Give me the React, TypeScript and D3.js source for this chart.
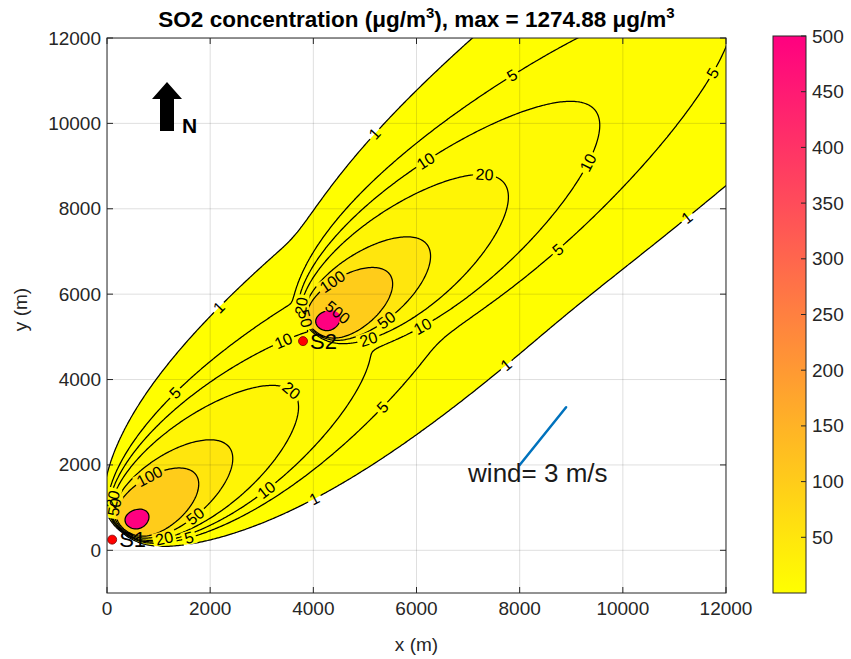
import React, { useRef, useEffect } from 'react';
import * as d3 from 'd3';

const W = 851;
const H = 659;

// sources (m)
const sourceNames = ['S1', 'S2'];
const sourceX = [100, 3800];
const sourceY = [250, 4900];
const sourceQ = [1, 1];

// plume model
const plumeAxisDeg = 45;
const plumeK = 7.43e8;
const plumeN = 2.05;
const plumeS0 = 530;
const plumeM = 3;
// crosswind spread: grows as s^0.73 near the stack, s^0.45 far away
const sigmaA = 2.12;
const sigmaB = 0.73;
const sigmaB2 = 0.45;
const sigmaL = 5000;

const levels = [1, 5, 10, 20, 50, 100, 500];
const cMax = 500;

const xTicks = [0, 2000, 4000, 6000, 8000, 10000, 12000];
const yTicks = [0, 2000, 4000, 6000, 8000, 10000, 12000];
const cbarTicks = [50, 100, 150, 200, 250, 300, 350, 400, 450, 500];

const windStart = [8000, 2000];
const windEnd = [8900, 3350];
const windText = 'wind= 3 m/s';
const windTextPos = [7000, 1750];

// inline contour labels: level, x, y
const labelLevel = [1, 1, 1, 1, 1, 5, 5, 5, 5, 5, 5, 10, 10, 10, 10, 10, 20, 20, 20, 20, 50, 50, 100, 100, 500, 20, 50, 20, 50];
const labelX = [2229, 5252, 3992, 7771, 11298, 1415, 7868, 5349, 8721, 11725, 1570, 3390, 3060, 6200, 9300, 6100, 3680, 1085, 7325, 5040, 1670, 5350, 870, 4460, 4380, 250, 330, 3900, 4000];
const labelY = [5625, 9679, 1242, 4265, 7687, 3585, 11063, 3351, 7078, 11180, 400, 4970, 1450, 9070, 9090, 5320, 3870, 350, 8670, 5085, 870, 5510, 1640, 6140, 5440, 1150, 950, 5700, 5500];

const FONT = '"Liberation Sans", Arial, Helvetica, sans-serif';

const bandColor = d3.interpolateRgb('#ffff00', '#ff0080');

const conc = (px: number, py: number) => {
  const ca = Math.cos((plumeAxisDeg * Math.PI) / 180);
  const sa = Math.sin((plumeAxisDeg * Math.PI) / 180);
  let c = 0;
  for (let k = 0; k < sourceX.length; k++) {
    const dx = px - sourceX[k];
    const dy = py - sourceY[k];
    const s = dx * ca + dy * sa;
    if (s <= 1) continue;
    const w = -dx * sa + dy * ca;
    const sy = sigmaA * Math.pow(s, sigmaB) *
      Math.pow(1 + (s / sigmaL) ** 2, -(sigmaB - sigmaB2) / 2);
    c += sourceQ[k] * plumeK * Math.pow(s, -plumeN) *
      Math.exp(-Math.pow(plumeS0 / s, plumeM)) * Math.exp(-(w * w) / (2 * sy * sy));
  }
  return c;
};

export default function App() {
  const ref = useRef<SVGSVGElement>(null);

  useEffect(() => {
    const svg = d3.select(ref.current);
    svg.selectAll('*').remove();

    const left = 107, right = 726, top = 38, bottom = 593;
    const x = d3.scaleLinear().domain([0, 12000]).range([left, right]);
    const y = d3.scaleLinear().domain([-1000, 12000]).range([bottom, top]);

    const defs = svg.append('defs');
    defs.append('clipPath').attr('id', 'plotClip')
      .append('rect').attr('x', left).attr('y', top)
      .attr('width', right - left).attr('height', bottom - top);

    // concentration grid (extends past the axes so edges are not stroked)
    const step = 30;
    const gx0 = -600, gy0 = -1600;
    const nx = Math.ceil((12600 - gx0) / step) + 1;
    const ny = Math.ceil((12600 - gy0) / step) + 1;
    const values = new Float64Array(nx * ny);
    for (let j = 0; j < ny; j++) {
      for (let i = 0; i < nx; i++) {
        values[j * nx + i] = conc(gx0 + i * step, gy0 + j * step);
      }
    }
    const contours = d3.contours().size([nx, ny]).thresholds(levels)(Array.from(values));

    const toPx = (gx: number, gy: number): [number, number] =>
      [x(gx0 + (gx - 0.5) * step), y(gy0 + (gy - 0.5) * step)];
    const proj = d3.geoTransform({
      point(px: number, py: number) {
        const p = toPx(px, py);
        (this as any).stream.point(p[0], p[1]);
      }
    });
    const path = d3.geoPath(proj);

    const plot = svg.append('g').attr('clip-path', 'url(#plotClip)');

    // filled bands
    contours.forEach(c => {
      plot.append('path')
        .attr('d', path(c as any))
        .attr('fill', bandColor(c.value / cMax))
        .attr('stroke', 'none');
    });

    // label placement: snap to nearest contour vertex
    const labels: { t: string; px: number; py: number; a: number }[] = [];
    labelLevel.forEach((lv, k) => {
      const c = contours.find(cc => cc.value === lv);
      if (!c) return;
      const tx = x(labelX[k]), ty = y(labelY[k]);
      let best = Infinity, bestRing: [number, number][] = [], bestI = 0;
      c.coordinates.forEach(poly => poly.forEach(ring => {
        const pr = ring.map(p => toPx(p[0], p[1]));
        pr.forEach((p, i) => {
          const d = (p[0] - tx) ** 2 + (p[1] - ty) ** 2;
          if (d < best) { best = d; bestRing = pr; bestI = i; }
        });
      }));
      if (!bestRing.length) return;
      const n = bestRing.length;
      const p0 = bestRing[(bestI - 3 + n) % n];
      const p1 = bestRing[(bestI + 3) % n];
      let a = (Math.atan2(p1[1] - p0[1], p1[0] - p0[0]) * 180) / Math.PI;
      if (a > 90) a -= 180;
      if (a < -90) a += 180;
      labels.push({ t: String(lv), px: bestRing[bestI][0], py: bestRing[bestI][1], a });
    });

    const mask = defs.append('mask').attr('id', 'lblMask')
      .attr('maskUnits', 'userSpaceOnUse')
      .attr('x', 0).attr('y', 0).attr('width', W).attr('height', H);
    mask.append('rect').attr('x', 0).attr('y', 0).attr('width', W).attr('height', H).attr('fill', '#fff');
    labels.forEach(l => {
      const w = l.t.length * 9 + 5;
      mask.append('rect')
        .attr('x', -w / 2).attr('y', -7).attr('width', w).attr('height', 14)
        .attr('fill', '#000')
        .attr('transform', `translate(${l.px},${l.py}) rotate(${l.a})`);
    });

    // grid lines
    const grid = plot.append('g').attr('stroke', 'rgba(38,38,38,0.15)').attr('stroke-width', 1);
    xTicks.forEach(v => grid.append('line').attr('x1', x(v)).attr('x2', x(v)).attr('y1', top).attr('y2', bottom));
    yTicks.forEach(v => grid.append('line').attr('y1', y(v)).attr('y2', y(v)).attr('x1', left).attr('x2', right));

    // source labels (under the lines)
    sourceNames.forEach((nm, k) => {
      plot.append('text')
        .attr('x', x(sourceX[k]) + 7)
        .attr('y', y(sourceY[k]) + 2)
        .attr('dominant-baseline', 'middle')
        .attr('font-family', FONT)
        .attr('font-size', 22)
        .attr('fill', '#000')
        .text(nm);
    });

    // contour lines
    const lines = plot.append('g').attr('mask', 'url(#lblMask)');
    contours.forEach(c => {
      lines.append('path')
        .attr('d', path(c as any))
        .attr('fill', 'none')
        .attr('stroke', '#000')
        .attr('stroke-width', 1.25)
        .attr('stroke-linejoin', 'round');
    });

    labels.forEach(l => {
      plot.append('text')
        .attr('transform', `translate(${l.px},${l.py}) rotate(${l.a})`)
        .attr('text-anchor', 'middle')
        .attr('dominant-baseline', 'central')
        .attr('font-family', FONT)
        .attr('font-size', 16)
        .attr('fill', '#000')
        .text(l.t);
    });

    // source markers
    sourceNames.forEach((nm, k) => {
      plot.append('circle')
        .attr('cx', x(sourceX[k])).attr('cy', y(sourceY[k])).attr('r', 4.5)
        .attr('fill', '#ff0000').attr('stroke', '#7a0000').attr('stroke-width', 0.8);
    });

    // wind
    plot.append('line')
      .attr('x1', x(windStart[0])).attr('y1', y(windStart[1]))
      .attr('x2', x(windEnd[0])).attr('y2', y(windEnd[1]))
      .attr('stroke', '#0072BD').attr('stroke-width', 2.5).attr('stroke-linecap', 'round');
    plot.append('text')
      .attr('x', x(windTextPos[0])).attr('y', y(windTextPos[1]))
      .attr('dominant-baseline', 'middle')
      .attr('font-family', FONT).attr('font-size', 26).attr('fill', '#1a1a1a')
      .text(windText);

    // north arrow
    svg.append('path')
      .attr('d', 'M167,82 L182,99 L174,99 L174,131 L160,131 L160,99 L152,99 Z')
      .attr('fill', '#000');
    svg.append('text')
      .attr('x', 182).attr('y', 133)
      .attr('font-family', FONT).attr('font-size', 21).attr('font-weight', 'bold')
      .text('N');

    // axes box + ticks
    svg.append('rect')
      .attr('x', left).attr('y', top).attr('width', right - left).attr('height', bottom - top)
      .attr('fill', 'none').attr('stroke', '#262626').attr('stroke-width', 1);
    const tk = svg.append('g').attr('stroke', '#262626').attr('stroke-width', 1);
    xTicks.forEach(v => {
      tk.append('line').attr('x1', x(v)).attr('x2', x(v)).attr('y1', bottom).attr('y2', bottom - 6);
      tk.append('line').attr('x1', x(v)).attr('x2', x(v)).attr('y1', top).attr('y2', top + 6);
    });
    yTicks.forEach(v => {
      tk.append('line').attr('y1', y(v)).attr('y2', y(v)).attr('x1', left).attr('x2', left + 6);
      tk.append('line').attr('y1', y(v)).attr('y2', y(v)).attr('x1', right).attr('x2', right - 6);
    });

    const tickFont = 19;
    xTicks.forEach(v => {
      svg.append('text')
        .attr('x', x(v)).attr('y', bottom + 22)
        .attr('text-anchor', 'middle')
        .attr('font-family', FONT).attr('font-size', tickFont).attr('fill', '#262626')
        .text(String(v));
    });
    yTicks.forEach(v => {
      svg.append('text')
        .attr('x', left - 6).attr('y', y(v))
        .attr('text-anchor', 'end').attr('dominant-baseline', 'central')
        .attr('font-family', FONT).attr('font-size', tickFont).attr('fill', '#262626')
        .text(String(v));
    });

    svg.append('text')
      .attr('x', (left + right) / 2).attr('y', 651)
      .attr('text-anchor', 'middle')
      .attr('font-family', FONT).attr('font-size', tickFont).attr('fill', '#262626')
      .text('x (m)');
    svg.append('text')
      .attr('transform', `translate(27,${(top + bottom) / 2 - 6}) rotate(-90)`)
      .attr('text-anchor', 'middle')
      .attr('font-family', FONT).attr('font-size', tickFont).attr('fill', '#262626')
      .text('y (m)');

    // title
    const title = svg.append('text')
      .attr('x', (left + right) / 2).attr('y', 27)
      .attr('text-anchor', 'middle')
      .attr('font-family', FONT).attr('font-size', 22.5).attr('font-weight', 'bold').attr('fill', '#000');
    title.append('tspan').text('SO2 concentration (μg/m');
    title.append('tspan').attr('font-size', 15).attr('dy', -9).text('3');
    title.append('tspan').attr('dy', 9).text('), max = 1274.88 μg/m');
    title.append('tspan').attr('font-size', 15).attr('dy', -9).text('3');

    // colorbar
    const cbL = 773, cbW = 33;
    const cy = d3.scaleLinear().domain([0, cMax]).range([bottom, 36]);
    const grad = defs.append('linearGradient').attr('id', 'cbGrad')
      .attr('x1', 0).attr('y1', 1).attr('x2', 0).attr('y2', 0);
    d3.range(0, 1.0001, 0.1).forEach(t => {
      grad.append('stop').attr('offset', t).attr('stop-color', bandColor(t));
    });
    svg.append('rect')
      .attr('x', cbL).attr('y', cy(cMax)).attr('width', cbW).attr('height', cy(0) - cy(cMax))
      .attr('fill', 'url(#cbGrad)').attr('stroke', '#262626').attr('stroke-width', 1);
    cbarTicks.forEach(v => {
      svg.append('line')
        .attr('x1', cbL + cbW).attr('x2', cbL + cbW - 5).attr('y1', cy(v)).attr('y2', cy(v))
        .attr('stroke', '#262626');
      svg.append('text')
        .attr('x', cbL + cbW + 6).attr('y', cy(v))
        .attr('dominant-baseline', 'central')
        .attr('font-family', FONT).attr('font-size', tickFont).attr('fill', '#262626')
        .text(String(v));
    });
  }, []);

  return (
    <svg ref={ref} width={W} height={H}
      style={{ position: 'absolute', left: 0, top: 0, background: '#fff' }} />
  );
}
